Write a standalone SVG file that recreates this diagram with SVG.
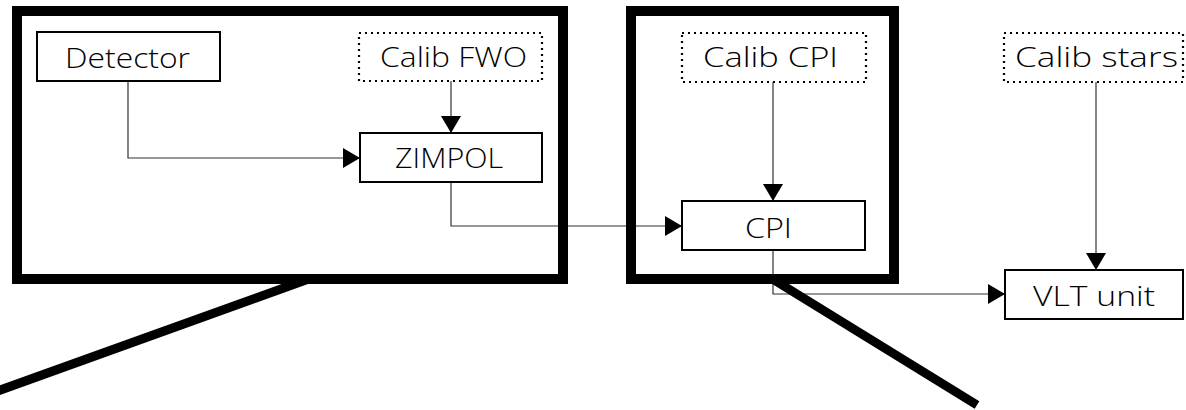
<svg xmlns="http://www.w3.org/2000/svg" width="1186" height="410" viewBox="0 0 1186 410">
  <defs>
    <marker id="arrow" viewBox="0 0 17 20" refX="17" refY="10" markerWidth="17" markerHeight="20" markerUnits="userSpaceOnUse" orient="auto">
      <path d="M0,0 L17,10 L0,20 Z" fill="#000"/>
    </marker>
  </defs>
  <style>
    .frame { fill: none; stroke: #000; stroke-width: 10; }
    .beam { fill: none; stroke: #000; stroke-width: 9; stroke-linecap: butt; }
    .box { fill: #fff; stroke: #000; stroke-width: 2; }
    .calib { fill: #fff; stroke: #000; stroke-width: 2.2; stroke-dasharray: 2 4; }
    .link { fill: none; stroke: #333; stroke-width: 1.2; marker-end: url(#arrow); }
    .label { font-family: "Open Sans", "DejaVu Sans", sans-serif; font-weight: 300; font-size: 28px; fill: #000; text-anchor: middle; }
  </style>
  <rect width="1186" height="410" fill="#fff"/>

  <!-- connectors -->
  <g id="connectors">
    <path class="link" d="M128,81 V158 H360"/>
    <path class="link" d="M451,81 V133"/>
    <path class="link" d="M451,182 V226 H682"/>
    <path class="link" d="M773,82 V201"/>
    <path class="link" d="M773,250 V294 H1005"/>
    <path class="link" d="M1096,82 V270"/>
  </g>

  <!-- enclosing subsystem frames with their projection lines -->
  <g id="frame-zimpol">
    <rect class="frame" x="17" y="11" width="546" height="268"/>
    <line class="beam" x1="310" y1="278.5" x2="-10" y2="393.7"/>
  </g>
  <g id="frame-cpi">
    <rect class="frame" x="631" y="11" width="263" height="268"/>
    <line class="beam" x1="770" y1="277.5" x2="977" y2="405"/>
  </g>

  <g id="detector">
    <rect class="box" x="37" y="32" width="183" height="49"/>
    <text class="label" x="127.5" y="68" textLength="125" lengthAdjust="spacingAndGlyphs">Detector</text>
  </g>
  <g id="calib-fwo">
    <rect class="calib" x="359" y="33" width="183" height="48"/>
    <text class="label" x="453.5" y="67" textLength="147" lengthAdjust="spacingAndGlyphs">Calib FWO</text>
  </g>
  <g id="zimpol">
    <rect class="box" x="360" y="133" width="182" height="49"/>
    <text class="label" x="449" y="168" textLength="108" lengthAdjust="spacingAndGlyphs">ZIMPOL</text>
  </g>
  <g id="calib-cpi">
    <rect class="calib" x="682" y="33" width="184" height="49"/>
    <text class="label" x="770.5" y="67" textLength="135" lengthAdjust="spacingAndGlyphs">Calib CPI</text>
  </g>
  <g id="cpi">
    <rect class="box" x="682" y="201" width="183" height="49"/>
    <text class="label" x="768.5" y="238" textLength="47" lengthAdjust="spacingAndGlyphs">CPI</text>
  </g>
  <g id="calib-stars">
    <rect class="calib" x="1004" y="33" width="179" height="49"/>
    <text class="label" x="1096.5" y="67" textLength="163" lengthAdjust="spacingAndGlyphs">Calib stars</text>
  </g>
  <g id="vlt-unit">
    <rect class="box" x="1005" y="270" width="178" height="49"/>
    <text class="label" x="1094" y="306" textLength="122" lengthAdjust="spacingAndGlyphs">VLT unit</text>
  </g>
</svg>
